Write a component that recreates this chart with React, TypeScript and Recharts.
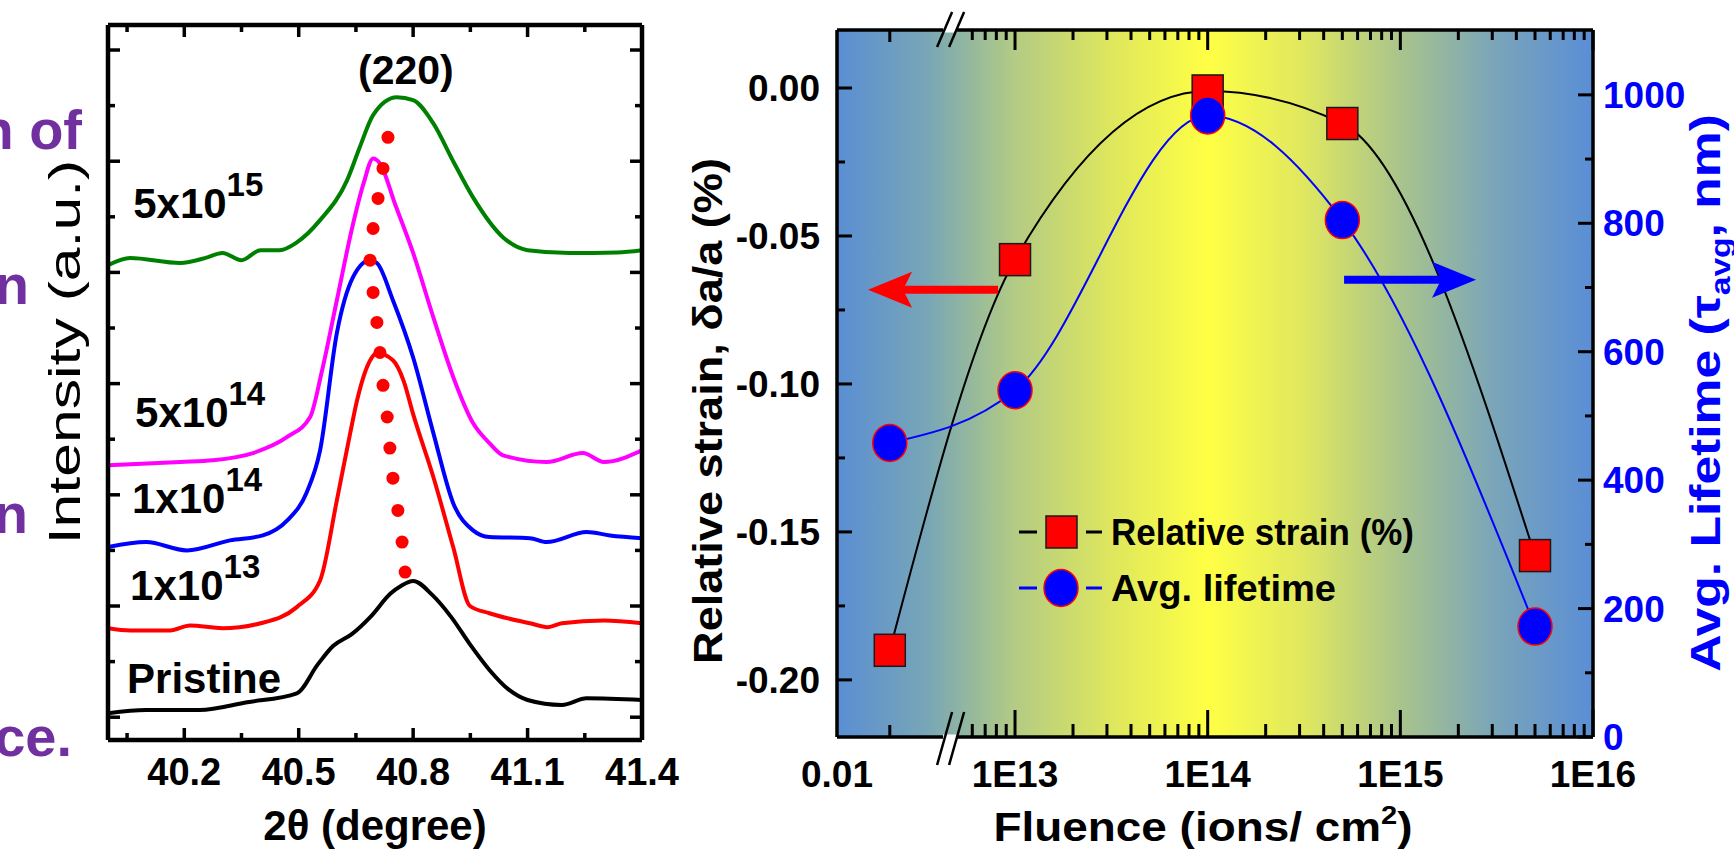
import React from 'react';
import {
  ComposedChart,
  Line,
  Scatter,
  XAxis,
  YAxis,
  CartesianGrid,
  ReferenceDot,
  ReferenceLine,
  Legend,
} from 'recharts';

const FONT = '"Liberation Sans", Arial, Helvetica, sans-serif';

// ---------- left panel: XRD (220) reflection, curves offset vertically ----------
const thetaTicks = [40.05, 40.2, 40.35, 40.5, 40.65, 40.8, 40.95, 41.1, 41.25, 41.4];
const thetaLabels = [40.2, 40.5, 40.8, 41.1, 41.4];
const intensityTicks = [0, 1, 2, 3, 4, 5, 6, 7, 8, 9, 10, 11, 12];

const scanPristine = [
  [40.0, 0.07], [40.1, 0.13], [40.24, 0.13], [40.365, 0.27], [40.495, 0.43], [40.55, 0.95],
  [40.59, 1.28], [40.64, 1.5], [40.69, 1.82], [40.74, 2.22], [40.77, 2.37], [40.8, 2.45],
  [40.85, 2.2], [40.9, 1.8], [40.95, 1.3], [41.0, 0.85], [41.05, 0.5], [41.1, 0.31],
  [41.19, 0.22], [41.255, 0.34], [41.4, 0.31],
];
const scan1e13 = [
  [40.0, 1.6], [40.058, 1.56], [40.163, 1.56], [40.215, 1.65], [40.3, 1.6], [40.4, 1.69],
  [40.495, 1.98], [40.556, 2.46], [40.6, 3.9], [40.635, 5.11], [40.653, 5.7], [40.69, 6.45],
  [40.705, 6.55], [40.747, 6.42], [40.775, 6.05], [40.8, 5.45], [40.853, 4.32], [40.905, 3.06],
  [40.949, 2.0], [41.0, 1.87], [41.106, 1.69], [41.153, 1.62], [41.19, 1.69], [41.3, 1.74],
  [41.4, 1.69],
];
const scan1e14 = [
  [40.0, 3.06], [40.1, 3.15], [40.207, 3.0], [40.32, 3.18], [40.406, 3.27], [40.47, 3.54],
  [40.52, 4.03], [40.556, 4.8], [40.6, 6.91], [40.642, 7.91], [40.687, 8.22], [40.705, 8.17],
  [40.747, 7.5], [40.8, 6.47], [40.853, 5.11], [40.905, 3.85], [40.957, 3.36], [41.0, 3.24],
  [41.106, 3.22], [41.15, 3.15], [41.255, 3.33], [41.316, 3.27], [41.4, 3.22],
];
const scan5e14 = [
  [40.0, 4.53], [40.19, 4.59], [40.275, 4.62], [40.38, 4.75], [40.47, 5.04], [40.53, 5.4],
  [40.56, 6.2], [40.6, 7.5], [40.64, 8.8], [40.67, 9.6], [40.695, 10.05], [40.713, 9.96],
  [40.752, 9.24], [40.8, 8.35], [40.853, 7.19], [40.905, 6.12], [40.957, 5.29], [41.0, 4.93],
  [41.036, 4.71], [41.15, 4.59], [41.245, 4.75], [41.3, 4.59], [41.4, 4.8],
];
const scan5e15 = [
  [40.0, 8.13], [40.058, 8.26], [40.189, 8.17], [40.26, 8.27], [40.3, 8.35], [40.35, 8.22],
  [40.4, 8.4], [40.45, 8.4], [40.495, 8.54], [40.556, 8.94], [40.627, 9.66], [40.66, 10.25],
  [40.695, 10.83], [40.757, 11.15], [40.8, 11.1], [40.853, 10.68], [40.905, 10.0], [40.957, 9.35],
  [41.036, 8.63], [41.1, 8.4], [41.21, 8.35], [41.335, 8.36], [41.4, 8.4],
];
// red dotted guide following the peak position
const peakTrack = [
  [40.734, 10.43], [40.721, 9.87], [40.708, 9.33], [40.695, 8.79], [40.687, 8.22],
  [40.695, 7.64], [40.705, 7.1], [40.713, 6.56], [40.721, 5.97], [40.732, 5.4],
  [40.739, 4.84], [40.747, 4.3], [40.76, 3.72], [40.771, 3.15], [40.779, 2.61],
];

const scanColors = ['#000000', '#ff0000', '#0000ff', '#ff00ff', '#008000'];
const scans = [scanPristine, scan1e13, scan1e14, scan5e14, scan5e15];

const doseBase = ['5x10', '5x10', '1x10', '1x10'];
const doseExp = ['15', '14', '14', '13'];
const doseAt = [[40.066, 8.975], [40.071, 5.216], [40.063, 3.669], [40.058, 2.104]];

// ---------- right panel: strain & lifetime vs fluence ----------
const doseNames = ['Pristine', '1E13', '1E14', '5E14', '5E15'];
const fluence = [0, 1e13, 1e14, 5e14, 5e15];
const strain = [-0.19, -0.058, -0.001, -0.012, -0.158];
const lifetime = [458, 540, 968, 805, 172];

const AXIS_START = 12.076; // left edge of the broken axis, labelled 0.01
const PRISTINE_POS = 12.35; // slot for the unirradiated sample
const BREAK_POS = 12.663;
const decadeTicks = [13, 14, 15, 16];
const decadeLabels = ['1E13', '1E14', '1E15', '1E16'];
const minorTicks = [
  ...[6, 7, 8, 9].map((m) => 12 + Math.log10(m)),
  ...[13, 14, 15].flatMap((d) => [2, 3, 4, 5, 6, 7, 8, 9].map((m) => d + Math.log10(m))),
];
const fluenceTicks = [AXIS_START, PRISTINE_POS, ...minorTicks, ...decadeTicks];

const strainTicks = [0, -0.025, -0.05, -0.075, -0.1, -0.125, -0.15, -0.175, -0.2];
const strainLabels = [0, -0.05, -0.1, -0.15, -0.2];
const lifeTicks = [0, 100, 200, 300, 400, 500, 600, 700, 800, 900, 1000];
const lifeLabels = [0, 200, 400, 600, 800, 1000];

const STRAIN_DOMAIN = [-0.2193, 0.0196];
const LIFE_DOMAIN = [0, 1101];

const STRAIN_NAME = 'Relative strain (%)';
const LIFE_NAME = 'Avg. lifetime';

const fluenceRows = fluence.map((f, i) => ({
  name: doseNames[i],
  pos: f === 0 ? PRISTINE_POS : Math.log10(f),
  strain: strain[i],
  life: lifetime[i],
}));

const toXY = (pts: number[][]) => pts.map(([x, y]) => ({ x, y }));

type TxtProps = {
  x: number;
  y: number;
  size: number;
  bold?: boolean;
  color?: string;
  anchor?: 'start' | 'middle' | 'end';
  rotate?: number;
  sx?: number;
  children: React.ReactNode;
};
const Txt = ({ x, y, size, bold = true, color = '#000', anchor = 'middle', rotate = 0, sx = 1, children }: TxtProps) => (
  <g transform={`translate(${x},${y}) rotate(${rotate}) scale(${sx},1)`}>
    <text x={0} y={0} fontSize={size} fontFamily={FONT} fontWeight={bold ? 700 : 400} fill={color} textAnchor={anchor}>
      {children}
    </text>
  </g>
);

// ---------- tick renderers (all ticks point into the frame) ----------
const ThetaTick = (props: any) => {
  const { x, y, payload, top } = props;
  const v = payload.value;
  const major = thetaLabels.includes(v);
  const dir = top ? 1 : -1;
  return (
    <g>
      <line x1={x} x2={x} y1={y} y2={y + dir * (major ? 12 : 7)} stroke="#000" strokeWidth={3.5} />
      {!top && major && (
        <text x={x} y={y + 45} textAnchor="middle" fontFamily={FONT} fontWeight={700} fontSize={38}>
          {v.toFixed(1)}
        </text>
      )}
    </g>
  );
};

const IntensityTick = (props: any) => {
  const { x, y, payload, right } = props;
  const len = payload.value % 2 === 0 ? 12 : 7;
  return <line x1={x} x2={x + (right ? -len : len)} y1={y} y2={y} stroke="#000" strokeWidth={3.5} />;
};

const FluenceTick = (props: any) => {
  const { x, y, payload, top } = props;
  const v = payload.value;
  const d = decadeTicks.indexOf(v);
  let len = top ? 10 : 13;
  if (d >= 0) len = top ? 20 : 27;
  if (v === PRISTINE_POS) len = 12;
  if (v === AXIS_START) len = 0;
  const label = v === AXIS_START ? '0.01' : d >= 0 ? decadeLabels[d] : '';
  const dir = top ? 1 : -1;
  return (
    <g>
      {len > 0 && <line x1={x} x2={x} y1={y} y2={y + dir * len} stroke="#000" strokeWidth={3} />}
      {!top && label && (
        <text x={x} y={y + 50} textAnchor="middle" fontFamily={FONT} fontWeight={700} fontSize={37}>
          {label}
        </text>
      )}
    </g>
  );
};

const StrainTick = (props: any) => {
  const { x, y, payload } = props;
  const v = payload.value;
  const major = strainLabels.includes(v);
  return (
    <g>
      <line x1={x} x2={x + (major ? 15 : 8)} y1={y} y2={y} stroke="#000" strokeWidth={3} />
      {major && (
        <text x={x - 17} y={y + 13} textAnchor="end" fontFamily={FONT} fontWeight={700} fontSize={37}>
          {v.toFixed(2)}
        </text>
      )}
    </g>
  );
};

const LifeTick = (props: any) => {
  const { x, y, payload } = props;
  const v = payload.value;
  const major = lifeLabels.includes(v);
  return (
    <g>
      <line x1={x} x2={x - (major ? 15 : 8)} y1={y} y2={y} stroke="#000" strokeWidth={3} />
      {major && (
        <text x={x + 10} y={y + 13} textAnchor="start" fontFamily={FONT} fontWeight={700} fontSize={37} fill="#0000ff">
          {v}
        </text>
      )}
    </g>
  );
};

// ---------- marks ----------
const squareDot = (p: any) => (
  <rect key={`sq${p.index}`} x={p.cx - 15.5} y={p.cy - 16} width={31} height={32} fill="#ff0000" stroke="#1a1a1a" strokeWidth={1.5} />
);
const circleDot = (p: any) => (
  <ellipse key={`ci${p.index}`} cx={p.cx} cy={p.cy} rx={17} ry={18.5} fill="#0000ff" stroke="#ff0000" strokeWidth={1.5} />
);

const breakMark = (bottom: boolean) => (p: any) => {
  const { cx, cy } = p;
  const lo = bottom ? 28 : 17;
  const hi = bottom ? 25 : 18;
  return (
    <g>
      <rect x={cx - 7} y={cy - 2.5} width={14} height={5} fill="#fff" />
      <line x1={cx - 13} y1={cy + lo} x2={cx + 2} y2={cy - hi} stroke="#000" strokeWidth={2.5} />
      <line x1={cx - 1} y1={cy + lo} x2={cx + 14} y2={cy - hi} stroke="#000" strokeWidth={2.5} />
    </g>
  );
};

const arrowShape = (color: string) => (p: any) => {
  const { x1, y1, x2, y2 } = p;
  const L = Math.hypot(x2 - x1, y2 - y1) || 1;
  const ux = (x2 - x1) / L;
  const uy = (y2 - y1) / L;
  const nx = -uy;
  const ny = ux;
  const head = 44;
  const half = 18;
  const bx = x2 - ux * head;
  const by = y2 - uy * head;
  const notchX = bx + ux * 9;
  const notchY = by + uy * 9;
  const pts = [
    [x2, y2],
    [bx + nx * half, by + ny * half],
    [notchX, notchY],
    [bx - nx * half, by - ny * half],
  ]
    .map((q) => q.join(','))
    .join(' ');
  return (
    <g>
      <line x1={x1} y1={y1} x2={notchX} y2={notchY} stroke={color} strokeWidth={8} />
      <polygon points={pts} fill={color} />
    </g>
  );
};

const textDot = (render: (cx: number, cy: number) => React.ReactNode) => (p: any) => <g>{render(p.cx, p.cy)}</g>;

const LegendBox = (props: any) => {
  const items = [...(props.payload ?? [])].sort((a: any, b: any) =>
    a.value === STRAIN_NAME ? -1 : b.value === STRAIN_NAME ? 1 : 0,
  );
  return (
    <svg width={440} height={120} style={{ display: 'block', overflow: 'visible' }}>
      {items.map((it: any, i: number) => {
        const cy = 34 + i * 56;
        const isStrain = it.value === STRAIN_NAME;
        return (
          <g key={i}>
            <line x1={9} x2={27} y1={cy} y2={cy} stroke={it.color} strokeWidth={3} />
            {isStrain ? (
              <rect x={36} y={cy - 16} width={31} height={32} fill="#ff0000" stroke="#1a1a1a" strokeWidth={1.5} />
            ) : (
              <ellipse cx={51} cy={cy} rx={17} ry={18.5} fill="#0000ff" stroke="#ff0000" strokeWidth={1.5} />
            )}
            <line x1={76} x2={92} y1={cy} y2={cy} stroke={it.color} strokeWidth={3} />
            <text
              x={101}
              y={cy + 13}
              fontFamily={FONT}
              fontWeight={700}
              fontSize={37}
              textLength={isStrain ? 303 : 225}
              lengthAdjust="spacingAndGlyphs"
            >
              {it.value}
            </text>
          </g>
        );
      })}
    </svg>
  );
};

const XrdPanel = () => (
  <ComposedChart width={700} height={865} margin={{ top: 24, right: 57, bottom: 124, left: 107 }}>
    <XAxis
      type="number"
      dataKey="x"
      domain={[40, 41.4]}
      allowDataOverflow
      ticks={thetaTicks}
      interval={0}
      height={1}
      tickSize={0}
      tickMargin={0}
      tickLine={false}
      tick={<ThetaTick />}
      axisLine={{ stroke: '#000', strokeWidth: 4.5 }}
    />
    <XAxis
      xAxisId="top"
      orientation="top"
      type="number"
      dataKey="x"
      domain={[40, 41.4]}
      allowDataOverflow
      ticks={thetaTicks}
      interval={0}
      height={1}
      tickSize={0}
      tickMargin={0}
      tickLine={false}
      tick={<ThetaTick top />}
      axisLine={{ stroke: '#000', strokeWidth: 4.5 }}
    />
    <YAxis
      type="number"
      dataKey="y"
      domain={[-0.41, 12.45]}
      allowDataOverflow
      ticks={intensityTicks}
      interval={0}
      width={1}
      tickSize={0}
      tickMargin={0}
      tickLine={false}
      tick={<IntensityTick />}
      axisLine={{ stroke: '#000', strokeWidth: 4.5 }}
    />
    <YAxis
      yAxisId="r"
      orientation="right"
      type="number"
      dataKey="y"
      domain={[-0.41, 12.45]}
      allowDataOverflow
      ticks={intensityTicks}
      interval={0}
      width={1}
      tickSize={0}
      tickMargin={0}
      tickLine={false}
      tick={<IntensityTick right />}
      axisLine={{ stroke: '#000', strokeWidth: 4.5 }}
    />
    {scans.map((s, i) => (
      <Line
        key={i}
        data={toXY(s)}
        dataKey="y"
        type="monotone"
        stroke={scanColors[i]}
        strokeWidth={4}
        dot={false}
        activeDot={false}
        isAnimationActive={false}
      />
    ))}
    <Scatter
      data={toXY(peakTrack)}
      dataKey="y"
      fill="#ff0000"
      isAnimationActive={false}
      shape={(p: any) => <circle cx={p.cx} cy={p.cy} r={6.5} fill="#ff0000" />}
    />
    {doseAt.map(([x, y], i) => (
      <ReferenceDot
        key={`d${i}`}
        x={x}
        y={y}
        ifOverflow="visible"
        shape={textDot((cx, cy) => (
          <text x={cx} y={cy} fontFamily={FONT} fontWeight={700} fontSize={42}>
            {doseBase[i]}
            <tspan dy={-22} fontSize={33}>
              {doseExp[i]}
            </tspan>
          </text>
        ))}
      />
    ))}
    <ReferenceDot
      x={40.05}
      y={0.432}
      ifOverflow="visible"
      shape={textDot((cx, cy) => (
        <text x={cx} y={cy} fontFamily={FONT} fontWeight={700} fontSize={42}>
          Pristine
        </text>
      ))}
    />
    <ReferenceDot
      x={40.781}
      y={11.385}
      ifOverflow="visible"
      shape={textDot((cx, cy) => (
        <text x={cx} y={cy} textAnchor="middle" fontFamily={FONT} fontWeight={700} fontSize={41}>
          (220)
        </text>
      ))}
    />
  </ComposedChart>
);

const FluencePanel = () => (
  <ComposedChart width={1094} height={865} data={fluenceRows} margin={{ top: 29, right: 140, bottom: 127, left: 196 }}>
    <defs>
      <linearGradient id="glow" x1="0" y1="0" x2="1" y2="0">
        <stop offset="0" stopColor="#5a8ed4" />
        <stop offset="0.12" stopColor="#78a6b6" />
        <stop offset="0.235" stopColor="#b3cb84" />
        <stop offset="0.36" stopColor="#dde65e" />
        <stop offset="0.49" stopColor="#ffff44" />
        <stop offset="0.62" stopColor="#dfe760" />
        <stop offset="0.745" stopColor="#a9c48c" />
        <stop offset="0.87" stopColor="#7aa5b9" />
        <stop offset="1" stopColor="#5a8ed6" />
      </linearGradient>
    </defs>
    <CartesianGrid yAxisId="strain" horizontal={false} vertical={false} fill="url(#glow)" stroke="none" />
    <XAxis
      type="number"
      dataKey="pos"
      domain={[AXIS_START, 16]}
      allowDataOverflow
      ticks={fluenceTicks}
      interval={0}
      height={1}
      tickSize={0}
      tickMargin={0}
      tickLine={false}
      tick={<FluenceTick />}
      axisLine={{ stroke: '#000', strokeWidth: 3.5 }}
    />
    <XAxis
      xAxisId="top"
      orientation="top"
      type="number"
      dataKey="pos"
      domain={[AXIS_START, 16]}
      allowDataOverflow
      ticks={fluenceTicks}
      interval={0}
      height={1}
      tickSize={0}
      tickMargin={0}
      tickLine={false}
      tick={<FluenceTick top />}
      axisLine={{ stroke: '#000', strokeWidth: 3.5 }}
    />
    <YAxis
      yAxisId="strain"
      type="number"
      domain={STRAIN_DOMAIN}
      allowDataOverflow
      ticks={strainTicks}
      interval={0}
      width={1}
      tickSize={0}
      tickMargin={0}
      tickLine={false}
      tick={<StrainTick />}
      axisLine={{ stroke: '#000', strokeWidth: 3.5 }}
    />
    <YAxis
      yAxisId="life"
      orientation="right"
      type="number"
      domain={LIFE_DOMAIN}
      allowDataOverflow
      ticks={lifeTicks}
      interval={0}
      width={1}
      tickSize={0}
      tickMargin={0}
      tickLine={false}
      tick={<LifeTick />}
      axisLine={{ stroke: '#000', strokeWidth: 3.5 }}
    />
    <Line
      yAxisId="strain"
      dataKey="strain"
      name={STRAIN_NAME}
      type="monotone"
      stroke="#000000"
      strokeWidth={2}
      dot={squareDot}
      activeDot={false}
      isAnimationActive={false}
    />
    <Line
      yAxisId="life"
      dataKey="life"
      name={LIFE_NAME}
      type="monotone"
      stroke="#0000ff"
      strokeWidth={2}
      dot={circleDot}
      activeDot={false}
      isAnimationActive={false}
    />
    <ReferenceLine
      yAxisId="strain"
      segment={[{ x: 12.912, y: -0.0682 }, { x: 12.237, y: -0.0682 }]}
      ifOverflow="visible"
      shape={arrowShape('#ff0000')}
    />
    <ReferenceLine
      yAxisId="life"
      segment={[{ x: 14.708, y: 712 }, { x: 15.393, y: 712 }]}
      ifOverflow="visible"
      shape={arrowShape('#0000ff')}
    />
    <ReferenceDot yAxisId="strain" x={BREAK_POS} y={STRAIN_DOMAIN[1]} ifOverflow="visible" shape={breakMark(false)} />
    <ReferenceDot yAxisId="strain" x={BREAK_POS} y={STRAIN_DOMAIN[0]} ifOverflow="visible" shape={breakMark(true)} />
    <Legend
      layout="horizontal"
      verticalAlign="middle"
      align="center"
      content={<LegendBox />}
      wrapperStyle={{ left: 370, top: 498, width: 440, height: 120 }}
    />
  </ComposedChart>
);

export default function App() {
  return (
    <div style={{ position: 'absolute', left: 0, top: 0, width: 1734, height: 865, background: '#fff', overflow: 'hidden' }}>
      <div style={{ position: 'absolute', left: 0, top: 0 }}>
        <XrdPanel />
      </div>
      <div style={{ position: 'absolute', left: 640, top: 0 }}>
        <FluencePanel />
      </div>
      <svg width={1734} height={865} style={{ position: 'absolute', left: 0, top: 0, pointerEvents: 'none' }}>
        <Txt x={82} y={149} size={56} color="#7030a0" anchor="end">n of</Txt>
        <Txt x={29} y={304} size={56} color="#7030a0" anchor="end">n</Txt>
        <Txt x={28} y={533} size={56} color="#7030a0" anchor="end">n</Txt>
        <Txt x={72} y={756} size={56} color="#7030a0" anchor="end">ce.</Txt>
        <Txt x={80} y={352} size={44} bold={false} rotate={-90} sx={1.38}>Intensity (a.u.)</Txt>
        <Txt x={375} y={840} size={42}>2θ (degree)</Txt>
        <Txt x={722} y={411} size={41} rotate={-90} sx={1.1}>Relative strain, δa/a (%)</Txt>
        <Txt x={1203} y={841} size={41} sx={1.12}>
          Fluence (ions/ cm
          <tspan dy={-17} fontSize={26}>2</tspan>
          <tspan dy={17}>)</tspan>
        </Txt>
        <Txt x={1720} y={393} size={43} rotate={-90} sx={1.2} color="#0000ff">
          Avg. Lifetime (τ
          <tspan dy={10} fontSize={28}>avg</tspan>
          <tspan dy={-10}>, nm)</tspan>
        </Txt>
      </svg>
    </div>
  );
}
